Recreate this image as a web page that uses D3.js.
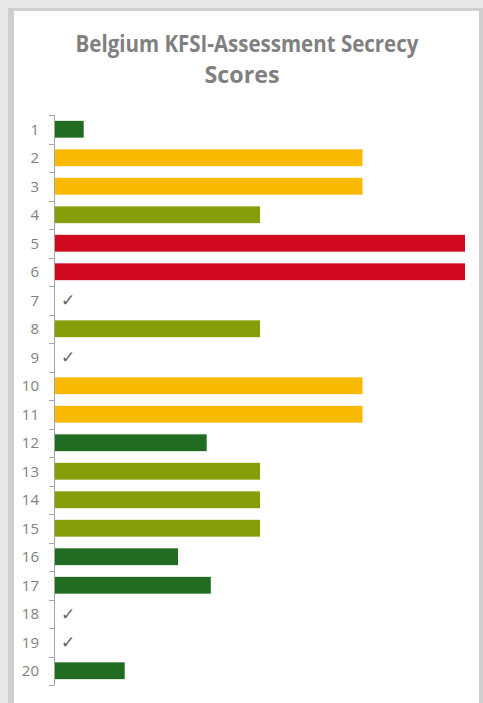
<!DOCTYPE html>
<html>
<head>
<meta charset="utf-8">
<script src="https://cdn.jsdelivr.net/npm/d3@7"></script>
<style>
  html, body { margin: 0; padding: 0; background: #e8e8e8; }
  svg { display: block; }
</style>
</head>
<body>
<svg id="chart" width="483" height="703"></svg>
<script>
// ---- data ----
const titleLines = ["Belgium KFSI-Assessment Secrecy", "Scores"];
const categories = ["1","2","3","4","5","6","7","8","9","10","11","12","13","14","15","16","17","18","19","20"];
const scores = [7, 75, 75, 50, 100, 100, 0, 50, 0, 75, 75, 37, 50, 50, 50, 30, 38, 0, 0, 17];
const levelBreaks = [50, 75, 100];
const levelColors = ["#226b22", "#879e0b", "#f8b900", "#d0091f"];

const svg = d3.select("#chart");
const W = 483, H = 703;

// background panel
svg.append("rect").attr("x", 0).attr("y", 0).attr("width", W).attr("height", H).attr("fill", "#e8e8e8");
svg.append("rect").attr("x", 8).attr("y", 8).attr("width", W - 8).attr("height", H - 8).attr("fill", "#cfcfcf");
svg.append("rect").attr("x", 14).attr("y", 11).attr("width", 465).attr("height", H - 11).attr("fill", "#ffffff");

// title (horizontally condensed to mimic the narrow original face)
const titleSpec = [
  { text: titleLines[0], cx: 247, y: 52, w: 343 },
  { text: titleLines[1], cx: 242, y: 83, w: 75 }
];
titleSpec.forEach(t => {
  const g = svg.append("g");
  const txt = g.append("text")
    .attr("x", 0).attr("y", 0)
    .attr("text-anchor", "middle")
    .attr("font-family", "Open Sans, sans-serif")
    .attr("font-weight", 700)
    .attr("font-size", 22.5)
    .attr("fill", "#808080")
    .text(t.text);
  const natural = txt.node().getComputedTextLength();
  const sx = natural > 0 ? t.w / natural : 1;
  g.attr("transform", `translate(${t.cx},${t.y}) scale(${sx},1)`);
});

// scales
const x = d3.scaleLinear().domain([0, 100]).range([55, 465]);
const y = d3.scaleBand().domain(categories).range([115, 685]).paddingInner(0.41).paddingOuter(0.205);
const color = d3.scaleThreshold().domain(levelBreaks).range(levelColors);

// bars
const data = categories.map((c, i) => ({ cat: c, v: scores[i] }));
svg.append("g").selectAll("rect")
  .data(data.filter(d => d.v > 0))
  .join("rect")
  .attr("x", x(0))
  .attr("y", d => y(d.cat))
  .attr("width", d => x(d.v) - x(0))
  .attr("height", y.bandwidth())
  .attr("fill", d => color(d.v));

// check marks for zero scores
svg.append("g").selectAll("text")
  .data(data.filter(d => d.v === 0))
  .join("text")
  .attr("x", x(0) + 6)
  .attr("y", d => y(d.cat) + y.bandwidth() / 2 + 6)
  .attr("font-family", "DejaVu Sans, sans-serif")
  .attr("font-size", 17)
  .attr("fill", "#666666")
  .text("\u2713");

// axis: vertical line with boundary ticks
const axisG = svg.append("g");
const bounds = d3.range(categories.length + 1).map(i => 115 + i * (570 / categories.length));
axisG.append("line")
  .attr("x1", 54.5).attr("x2", 54.5)
  .attr("y1", 115).attr("y2", 685)
  .attr("stroke", "#a6a6a6").attr("stroke-width", 1);
axisG.selectAll("line.tick")
  .data(bounds)
  .join("line")
  .attr("class", "tick")
  .attr("x1", 49).attr("x2", 54.5)
  .attr("y1", d => Math.round(d) + 0.5).attr("y2", d => Math.round(d) + 0.5)
  .attr("stroke", "#a6a6a6").attr("stroke-width", 1);
axisG.selectAll("text")
  .data(categories)
  .join("text")
  .attr("x", 39)
  .attr("y", d => y(d) + y.bandwidth() / 2 + 5.5)
  .attr("text-anchor", "end")
  .attr("font-family", "Open Sans, sans-serif")
  .attr("font-size", 15)
  .attr("fill", "#7f7f7f")
  .text(d => d);
</script>
</body>
</html>
